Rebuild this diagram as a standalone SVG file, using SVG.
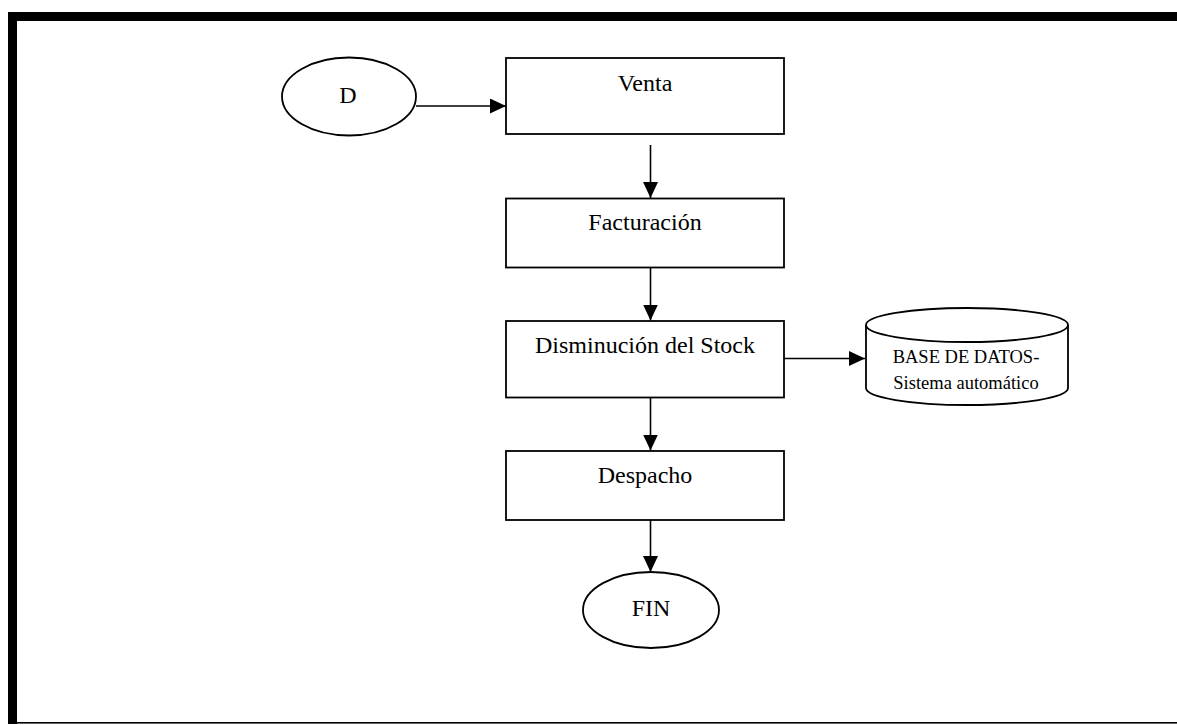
<svg xmlns="http://www.w3.org/2000/svg" width="1177" height="725" viewBox="0 0 1177 725">
  <style>
    .shape { fill: #ffffff; stroke: #000000; stroke-width: 1.8; }
    .edge { fill: none; stroke: #000000; stroke-width: 1.6; }
    .label { font-family: "Liberation Serif", "Times New Roman", serif; font-size: 24px; fill: #000000; text-anchor: middle; }
    .small { font-size: 18.5px; }
  </style>
  <defs>
    <marker id="arrow" markerUnits="userSpaceOnUse" markerWidth="16" markerHeight="15" refX="16" refY="7.5" orient="auto">
      <path d="M0,0 L16,7.5 L0,15 Z" fill="#000000"/>
    </marker>
  </defs>

  <rect width="1177" height="725" fill="#ffffff"/>

  <!-- page frame -->
  <g id="frame" fill="#000000">
    <rect x="8" y="12" width="1169" height="9"/>
    <rect x="8" y="12" width="9" height="712"/>
    <rect x="8" y="722" width="1169" height="1.6"/>
  </g>

  <!-- connectors -->
  <g id="connectors">
    <line class="edge" x1="416" y1="106" x2="506" y2="106" marker-end="url(#arrow)"/>
    <line class="edge" x1="650.5" y1="145" x2="650.5" y2="198" marker-end="url(#arrow)"/>
    <line class="edge" x1="650.5" y1="268" x2="650.5" y2="320.5" marker-end="url(#arrow)"/>
    <line class="edge" x1="784" y1="358.5" x2="865" y2="358.5" marker-end="url(#arrow)"/>
    <line class="edge" x1="650.5" y1="397.5" x2="650.5" y2="450.5" marker-end="url(#arrow)"/>
    <line class="edge" x1="650.5" y1="520" x2="650.5" y2="572" marker-end="url(#arrow)"/>
  </g>

  <g id="start">
    <ellipse class="shape" cx="349" cy="96.5" rx="67" ry="39"/>
    <text class="label" x="348" y="102.5">D</text>
  </g>

  <g id="venta">
    <rect class="shape" x="506" y="58" width="278" height="76"/>
    <text class="label" x="645" y="91">Venta</text>
  </g>

  <g id="facturacion">
    <rect class="shape" x="506" y="198.5" width="278" height="69"/>
    <text class="label" x="645" y="230">Facturación</text>
  </g>

  <g id="stock">
    <rect class="shape" x="506" y="321" width="278" height="76.5"/>
    <text class="label" x="645" y="353">Disminución del Stock</text>
  </g>

  <g id="base-datos">
    <path class="shape" d="M866,325 L866,388 A101,17 0 0 0 1068,388 L1068,325"/>
    <ellipse class="shape" cx="967" cy="325" rx="101" ry="17"/>
    <text class="label small" x="966" y="363">BASE DE DATOS-</text>
    <text class="label small" x="966" y="389">Sistema automático</text>
  </g>

  <g id="despacho">
    <rect class="shape" x="506" y="451" width="278" height="69"/>
    <text class="label" x="645" y="483">Despacho</text>
  </g>

  <g id="fin">
    <ellipse class="shape" cx="651" cy="610" rx="68" ry="38"/>
    <text class="label" x="651" y="616">FIN</text>
  </g>
</svg>
